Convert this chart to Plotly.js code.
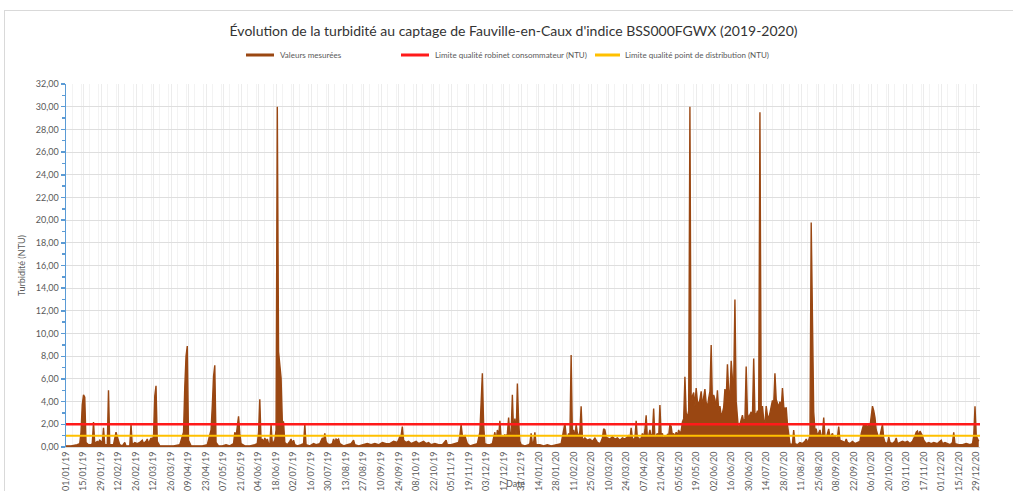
<!DOCTYPE html>
<html><head><meta charset="utf-8">
<script src="https://cdn.plot.ly/plotly-3.0.1.min.js"></script>
<style>
html,body{margin:0;padding:0;background:#fff;}
#wrap{position:relative;width:1013px;height:491px;overflow:hidden;}
#frame{position:absolute;left:4px;top:10px;width:1030px;height:520px;border:1px solid #d9d9d9;pointer-events:none;}
</style></head>
<body><div id="wrap"><div id="chart" style="width:1013px;height:491px;"></div><div id="frame"></div></div>
<script>
// ---- data (day of month per month, turbidity in NTU) ----
const days2019 = [
  [1,5,10,12,13,14,15,16,17,19,21,22,23,24,26,27,28,29,30,31],
  [1,3,4,5,8,9,10,11,12,13,15,17,18,21,22,23,25,27],
  [1,3,4,6,7,8,10,11,12,13,14,15,17,20,24,28],
  [2,5,6,7,8,9,11,15,20,24,27,28,29,30],
  [1,3,6,9,12,15,16,17,18,19,20,21,24,28],
  [1,3,4,5,6,7,8,9,10,11,12,13,14,15,16,17,18,19,20,21,22,23,24,25,27,29,30],
  [1,2,3,5,8,10,11,12,15,18,20,23,25,26,27,28,29,31],
  [2,3,4,5,6,7,8,11,14,17,19,20,23,27,30],
  [2,5,8,11,14,17,20,23,25,26,27,28,30],
  [2,4,6,8,10,12,14,16,18,20,23,26,29],
  [1,2,5,8,11,12,13,14,15,16,17,18,20,23,26,28,29,30],
  [1,2,4,6,8,9,10,11,12,13,14,15,16,17,18,19,20,21,22,23,24,25,26,27,28,29,30,31]
];
const turb2019 = [
  [0.1,0.1,0.2,0.3,1.3,3.7,4.6,4.4,0.4,0.2,0.2,0.3,2.2,0.3,0.5,0.4,0.6,0.5,0.3,1.7],
  [0.2,0.2,5.0,0.2,0.2,0.9,1.3,0.9,0.5,0.2,0.1,0.4,0.1,0.1,2.0,0.2,0.4,0.3],
  [0.4,0.6,0.3,0.5,0.7,0.3,0.8,0.6,1.0,4.5,5.4,0.5,0.1,0.1,0.1,0.1],
  [0.2,1.3,5.3,8.0,8.9,0.6,0.1,0.1,0.1,0.2,1.5,3.6,6.2,7.2],
  [0.4,0.1,0.1,0.2,0.1,0.3,1.3,0.9,1.9,2.7,1.2,0.3,0.1,0.1],
  [0.2,0.3,1.3,4.2,0.5,0.7,0.4,0.8,0.5,0.7,0.3,0.2,2.0,0.3,0.4,0.6,1.5,30.0,8.4,6.8,6.1,2.3,2.2,0.4,0.2,0.5,0.7],
  [0.3,0.6,0.2,0.1,0.2,0.3,2.0,0.2,0.1,0.3,0.2,0.3,0.8,0.6,1.2,0.5,0.3,0.2],
  [0.3,0.7,0.4,0.7,0.6,0.7,0.3,0.1,0.2,0.3,0.6,0.2,0.1,0.2,0.3],
  [0.2,0.3,0.2,0.4,0.3,0.3,0.5,0.4,0.9,1.0,1.8,0.6,0.4],
  [0.5,0.3,0.4,0.5,0.3,0.4,0.5,0.3,0.4,0.2,0.3,0.2,0.2],
  [0.6,0.2,0.2,0.3,0.4,1.0,2.0,1.0,0.9,1.0,0.7,0.3,0.1,0.2,0.3,1.3,4.9,6.5],
  [2.0,0.3,0.2,0.2,0.3,0.8,1.3,0.5,1.5,0.9,2.3,0.8,1.0,0.8,1.1,0.9,1.2,2.6,1.0,1.3,4.6,1.2,2.5,1.0,5.6,2.3,0.5,0.2]
];
const days2020 = [
  [3,6,7,8,9,10,11,12,15,18,21,24,27,30],
  [1,2,3,4,5,6,7,8,9,10,11,12,13,14,15,16,17,18,19,20,22,24,26,28],
  [1,3,4,5,6,7,8,9,11,13,15,17,19,21,23,25,26,27,28,29,30,31],
  [1,2,3,4,5,6,7,8,9,10,11,12,13,14,15,16,17,18,19,20,21,22,23,24,25,26,27,28,29,30],
  [1,2,3,4,5,6,7,8,9,10,11,12,13,14,15,16,17,18,19,20,21,22,23,24,25,26,27,28,29,30,31],
  [1,2,3,4,5,6,7,8,9,10,11,12,13,14,15,16,17,18,19,20,21,22,23,24,25,26,27,28,29,30],
  [1,2,3,4,5,6,7,8,9,10,11,12,13,14,15,16,17,18,19,20,21,22,23,24,25,26,27,28,29,30,31],
  [1,2,3,4,5,6,8,10,12,14,15,16,17,18,19,20,21,22,23,24,25,26,27,28,29,30,31],
  [1,2,3,4,5,6,7,8,9,10,11,13,15,16,17,19,21,23,25,27,28,29,30],
  [1,2,3,4,5,6,7,8,9,10,11,12,13,14,15,16,17,19,20,21,23,25,26,27,29,31],
  [2,4,6,8,10,11,12,13,14,15,16,17,19,21,23,25,28],
  [1,2,4,6,8,10,11,12,15,18,21,24,26,27,28,29,30,31]
];
const turb2020 = [
  [0.1,0.2,0.3,1.2,0.3,0.4,1.3,0.2,0.2,0.1,0.2,0.1,0.2,0.3],
  [0.3,0.9,1.5,2.1,1.0,0.8,1.2,0.9,8.1,1.0,1.5,0.8,2.0,1.2,0.9,1.4,3.6,0.8,0.6,0.8,0.6,0.7,0.5,0.8],
  [0.4,0.3,0.5,0.8,1.6,1.5,0.9,0.8,0.7,0.9,0.7,0.8,0.6,0.8,0.7,0.9,1.0,0.7,1.7,0.8,0.6,0.8],
  [2.3,0.7,0.8,0.6,0.8,1.2,0.8,1.5,2.8,0.8,1.0,1.5,0.9,1.2,3.4,0.8,1.0,1.2,0.8,3.7,1.0,1.2,0.6,1.0,0.8,1.1,1.0,2.0,1.8,1.0],
  [1.2,0.9,1.3,1.0,1.5,1.2,1.4,2.2,2.5,6.2,3.0,2.6,3.2,30.0,3.4,4.5,4.8,3.6,5.2,4.0,3.8,4.2,4.9,3.6,4.4,5.1,3.9,3.5,4.3,4.9,9.0],
  [3.8,4.6,4.2,3.5,5.0,3.2,3.6,2.8,3.0,3.5,5.1,4.2,7.3,5.0,4.4,7.6,6.0,5.5,13.0,4.0,2.4,1.3,2.0,2.4,2.8,2.2,2.5,7.1,2.9,2.6],
  [2.8,3.1,2.7,7.8,3.0,2.8,3.2,3.0,29.5,3.2,3.6,2.4,2.0,3.6,2.8,2.5,3.0,3.7,4.1,3.8,6.5,4.2,3.9,3.5,4.0,3.4,5.2,3.6,3.2,3.5,2.0],
  [1.0,0.3,0.2,0.3,1.5,0.3,0.2,0.4,0.3,0.5,0.7,0.4,0.6,1.0,19.8,13.2,3.1,1.5,1.6,1.0,1.2,1.5,0.9,1.1,2.6,1.0,0.8],
  [1.2,1.6,0.9,1.0,1.2,0.8,1.0,0.7,0.9,1.8,0.6,0.5,0.4,0.7,0.4,0.3,0.5,0.3,0.4,0.5,1.2,1.6,2.0],
  [1.8,2.1,1.5,2.1,1.8,2.6,3.6,3.2,2.6,1.5,1.2,0.8,1.0,1.5,2.0,0.8,0.4,0.3,0.9,0.4,0.3,0.5,0.8,0.3,0.4,0.5],
  [0.4,0.5,0.3,0.5,1.0,1.3,1.4,1.0,1.4,1.2,1.0,0.6,0.3,0.4,0.3,0.4,0.3],
  [0.6,0.3,0.4,0.3,0.2,0.4,1.3,0.3,0.2,0.2,0.3,0.2,0.3,1.0,3.6,1.0,0.8,0.5]
];
const limitDates = ['2019-01-01', '2021-01-01'];
const limitRobinet = [2, 2];        // Limite qualité robinet consommateur (NTU)
const limitDistribution = [1, 1];   // Limite qualité point de distribution (NTU)
const seriesNames = ['Valeurs mesurées', 'Limite qualité robinet consommateur (NTU)', 'Limite qualité point de distribution (NTU)'];

// ---- build series ----
const pad = n => (n < 10 ? '0' : '') + n;
const dates = [], values = [];
[[2019, days2019, turb2019], [2020, days2020, turb2020]].forEach(([yr, D, V]) => {
  D.forEach((monthDays, m) => {
    monthDays.forEach((d, i) => {
      dates.push(yr + '-' + pad(m + 1) + '-' + pad(d));
      values.push(V[m][i]);
    });
  });
});

const BROWN = '#9a4712';
const RED = '#ff1a1a';
const GOLD = '#ffc000';
const DAY = 86400000;
const traces = [
  {x: dates, y: values, type: 'scatter', mode: 'lines', line: {width: 0, color: BROWN},
   fill: 'tozeroy', fillcolor: BROWN, showlegend: false, hoverinfo: 'skip'},
  {x: dates, y: values, type: 'scatter', mode: 'lines', name: seriesNames[0],
   line: {color: BROWN, width: 1.4}, showlegend: false},
  {x: limitDates, y: limitRobinet, type: 'scatter', mode: 'lines', name: seriesNames[1],
   line: {color: RED, width: 2.5}, showlegend: false},
  {x: limitDates, y: limitDistribution, type: 'scatter', mode: 'lines', name: seriesNames[2],
   line: {color: GOLD, width: 2}, showlegend: false}
];

// custom legend (Excel-like spacing): plot area spans x 66..980 px, y 84..447 px
const L = 66, W = 914, T = 84, H = 363;
const px = x => (x - L) / W;
const py = y => (T + H - y) / H;
const legendItems = [
  {name: seriesNames[0], color: BROWN, x0: 246, x1: 274, tx: 278},
  {name: seriesNames[1], color: RED, x0: 401, x1: 429, tx: 433},
  {name: seriesNames[2], color: GOLD, x0: 595, x1: 620, tx: 623}
];
const legY = 55;
const shapes = legendItems.map(it => ({type: 'line', xref: 'paper', yref: 'paper',
  x0: px(it.x0), x1: px(it.x1), y0: py(legY), y1: py(legY), line: {color: it.color, width: 3}}));
const annotations = legendItems.map(it => ({text: it.name, xref: 'paper', yref: 'paper',
  x: px(it.tx), y: py(legY), xanchor: 'left', yanchor: 'middle', showarrow: false,
  font: {size: 8, color: '#595959'}}));
annotations.push({text: 'Date', xref: 'paper', yref: 'paper', x: px(515), y: py(483), showarrow: false,
  font: {size: 9, color: '#595959'}, xanchor: 'center', yanchor: 'middle'});

const layout = {
  width: 1013, height: 491,
  margin: {l: 66, r: 33, t: 84, b: 44},
  paper_bgcolor: 'rgba(0,0,0,0)', plot_bgcolor: '#fff',
  separators: ', ',
  font: {family: 'Lato, "Open Sans", sans-serif', size: 9, color: '#595959'},
  title: {text: "Évolution de la turbidité au captage de Fauville-en-Caux d'indice BSS000FGWX (2019-2020)",
          x: 0.507, xref: 'container', xanchor: 'center', y: 0.937, yref: 'container', yanchor: 'middle',
          font: {size: 14, color: '#333333'}},
  showlegend: false,
  xaxis: {type: 'date', range: ['2019-01-01', '2021-01-01'], tick0: '2019-01-01', dtick: 14 * DAY,
          tickformat: '%d/%m/%y', tickangle: -90, tickfont: {size: 9, color: '#595959'},
          showgrid: true, gridcolor: '#ececec', gridwidth: 1,
          minor: {dtick: 7 * DAY, showgrid: true, gridcolor: '#f3f3f3', gridwidth: 1},
          showline: true, linecolor: '#d9d9d9', zeroline: false, ticks: '', automargin: false, fixedrange: true},
  yaxis: {range: [0, 32], dtick: 2, tickformat: '.2f', tickfont: {size: 9, color: '#595959'},
          showgrid: true, gridcolor: '#dedede', gridwidth: 1, zeroline: false,
          showline: true, linecolor: '#5b9bd5', linewidth: 1.5,
          ticks: 'outside', ticklen: 4, tickcolor: '#5b9bd5', tickwidth: 1.5,
          minor: {dtick: 1, ticks: 'outside', ticklen: 3, tickcolor: '#5b9bd5', tickwidth: 1.5, showgrid: false},
          title: {text: 'Turbidité (NTU)', standoff: 8, font: {size: 9, color: '#595959'}},
          automargin: false, fixedrange: true},
  shapes: shapes,
  annotations: annotations
};

Plotly.newPlot('chart', traces, layout, {staticPlot: true, displayModeBar: false});
</script>
</body></html>
